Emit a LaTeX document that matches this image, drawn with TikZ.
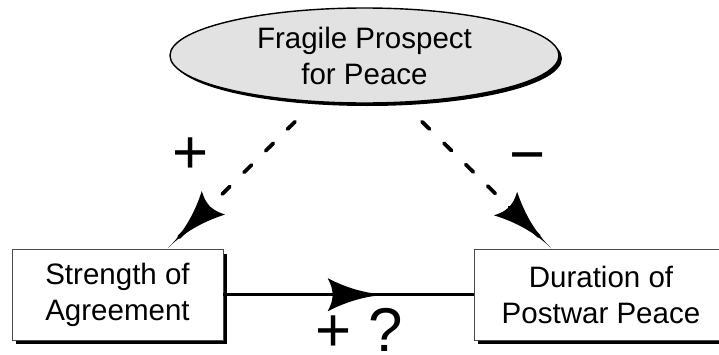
\documentclass[tikz,border=0pt]{standalone}
\usepackage{fontspec}
\setmainfont{Liberation Sans}
\usetikzlibrary{arrows.meta, positioning, shapes.geometric, shadows, decorations.markings}
\definecolor{cfill}{HTML}{E2E2E2}
\definecolor{cedge}{HTML}{4A4A4A}
\tikzset{
  every picture/.style={line width=2.1pt},
  factor/.style={draw=cedge, line width=0.7pt, fill=white, align=center, inner sep=0pt,
    minimum height=2.2625cm, font=\fontsize{21}{25.6}\selectfont,
    drop shadow={shadow xshift=0.1cm, shadow yshift=-0.1cm, opacity=1, fill=black}},
  cause/.style={ellipse, draw=black, line width=1pt, fill=cfill, align=center, inner sep=0pt,
    minimum width=9.725cm, minimum height=2.375cm, font=\fontsize{21}{25.6}\selectfont,
    drop shadow={shadow xshift=0.075cm, shadow yshift=-0.075cm, opacity=1, fill=black}},
  sign/.style={font=\fontsize{44}{50}\selectfont, anchor=base, inner sep=0pt},
  link/.style={line width=2.1pt},
  maybe/.style={link, line width=2.7pt, dash pattern=on 7.5pt off 14.3pt, line cap=round},
  head/.style={postaction={decorate, decoration={markings, mark=at position #1 with {
    \fill[solid] (0,0) .. controls (-0.533,0) and (-1.067,0.1375) .. (-1.6,0.4125)
      .. controls (-1.5,0.2) .. (-1.475,0) .. controls (-1.5,-0.2) .. (-1.6,-0.4125)
      .. controls (-1.067,-0.1375) and (-0.533,0) .. (0,0);}}}},
}

\begin{document}
\begin{tikzpicture}
  \useasboundingbox (0,0) rectangle (17.975,8.85);
  % the three factors
  \node[cause] (peace) at (9.1125,7.4625) {Fragile Prospect\\for Peace};
  \node[factor, minimum width=5.275cm] (strength) at (2.9375,1.4813) {Strength of\\Agreement};
  \node[factor, minimum width=6.35cm] (duration) at (15.025,1.4813) {Duration of\\Postwar Peace};
  \coordinate (link left) at ([xshift=-1.7375cm, yshift=-0.45cm]peace.south);
  \coordinate (link right) at ([xshift=1.4375cm, yshift=-0.45cm]peace.south);
  % effects
  \draw[maybe, head=-0.5pt] (link left) -- ([xshift=1.2375cm]strength.north);
  \draw[maybe, head=-0.5pt] (link right) -- ([xshift=-1.225cm]duration.north);
  \draw[link, head=0.673] (strength) -- (duration);
  \node[sign] (plus left) at (4.7625,4.505) {+};
  \node[sign] (minus right) at (13.1875,4.4675) {−};
  \node[sign] (effect) at (8.985,0.06) {+ ?};
\end{tikzpicture}
\end{document}
